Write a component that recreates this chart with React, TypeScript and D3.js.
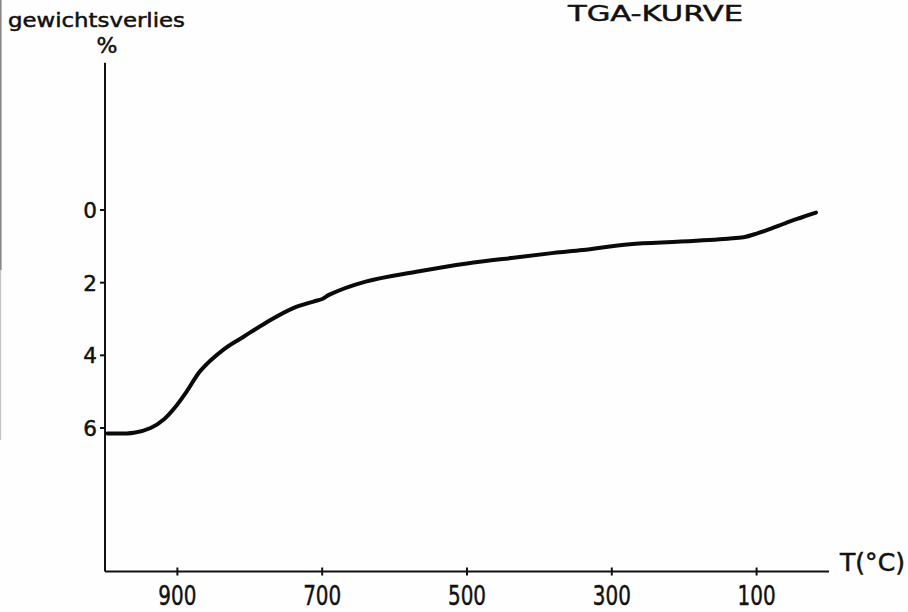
import React from "react";
import * as d3 from "d3";

const TEMPS = [997, 960, 937, 918, 904, 886, 868, 835, 808, 776, 740, 712, 700, 690, 640, 570, 500, 430, 380, 340, 275, 205, 140, 118, 100, 80, 60, 40, 18];
const LOSS = [6.15, 6.13, 6.0, 5.75, 5.45, 4.96, 4.42, 3.82, 3.48, 3.08, 2.7, 2.52, 2.45, 2.33, 1.97, 1.7, 1.47, 1.3, 1.18, 1.1, 0.94, 0.87, 0.79, 0.75, 0.65, 0.51, 0.36, 0.22, 0.07];
const X_TICKS = [900, 700, 500, 300, 100];
const Y_TICKS = [0, 2, 4, 6];
const TITLE = "TGA-KURVE";
const Y_LABEL = "gewichtsverlies";
const Y_UNIT = "%";
const X_LABEL = "T(°C)";

const W = 908;
const H = 612;
const FONT = "DejaVu Sans";
const INK = "#111";

export default function App() {
  const x = d3.scaleLinear().domain([1000, 0]).range([105, 829]);
  const y = d3.scaleLinear().domain([0, 6]).range([210, 428]);
  const axisY = y(9.95);
  const axisTop = y(-4.05);
  const data = TEMPS.map((t, i) => ({ t, v: LOSS[i] }));
  const line = d3
    .line<{ t: number; v: number }>()
    .x((d) => x(d.t))
    .y((d) => y(d.v))
    .curve(d3.curveCatmullRom.alpha(0.5));

  const textStyle = { fill: INK, stroke: INK, strokeWidth: 0.5 };

  return (
    <svg
      width={W}
      height={H}
      style={{ position: "absolute", left: 0, top: 0, background: "#fff" }}
      fontFamily={FONT}
    >
      <rect x={0} y={0} width={W} height={H} fill="#fefefe" />
      <rect x={0} y={0} width={1.6} height={270} fill="#8a8a8a" />
      <rect x={0} y={270} width={1.2} height={170} fill="#c4c4c4" />

      <text x={568} y={21} fontSize={22} textLength={175} lengthAdjust="spacingAndGlyphs" {...textStyle}>
        {TITLE}
      </text>
      <text x={8} y={27} fontSize={19.5} textLength={177} lengthAdjust="spacingAndGlyphs" {...textStyle}>
        {Y_LABEL}
      </text>
      <text x={107} y={53} fontSize={22} textAnchor="middle" {...textStyle}>
        {Y_UNIT}
      </text>

      <line x1={x(1000)} x2={x(1000)} y1={axisTop} y2={axisY} stroke={INK} strokeWidth={2} />
      <line x1={x(1000)} x2={x(0)} y1={axisY} y2={axisY} stroke={INK} strokeWidth={2} />

      {Y_TICKS.map((t) => (
        <g key={"y" + t}>
          <line x1={x(1000) - 5} x2={x(1000)} y1={y(t)} y2={y(t)} stroke={INK} strokeWidth={2} />
          <text x={97} y={y(t) + 8} fontSize={21.5} textAnchor="end" {...textStyle}>
            {t}
          </text>
        </g>
      ))}

      {X_TICKS.map((t) => (
        <g key={"x" + t}>
          <line x1={x(t)} x2={x(t)} y1={axisY - 4} y2={axisY + 4} stroke={INK} strokeWidth={2} />
          <text
            transform={`translate(${x(t)},${605}) scale(0.74,1)`}
            fontSize={27}
            textAnchor="middle"
            {...textStyle}
          >
            {t}
          </text>
        </g>
      ))}

      <text x={840} y={571} fontSize={24} textLength={65} lengthAdjust="spacingAndGlyphs" {...textStyle}>
        {X_LABEL}
      </text>

      <path d={line(data) || ""} fill="none" stroke="#0a0a0a" strokeWidth={4} strokeLinecap="round" strokeLinejoin="round" />
    </svg>
  );
}
